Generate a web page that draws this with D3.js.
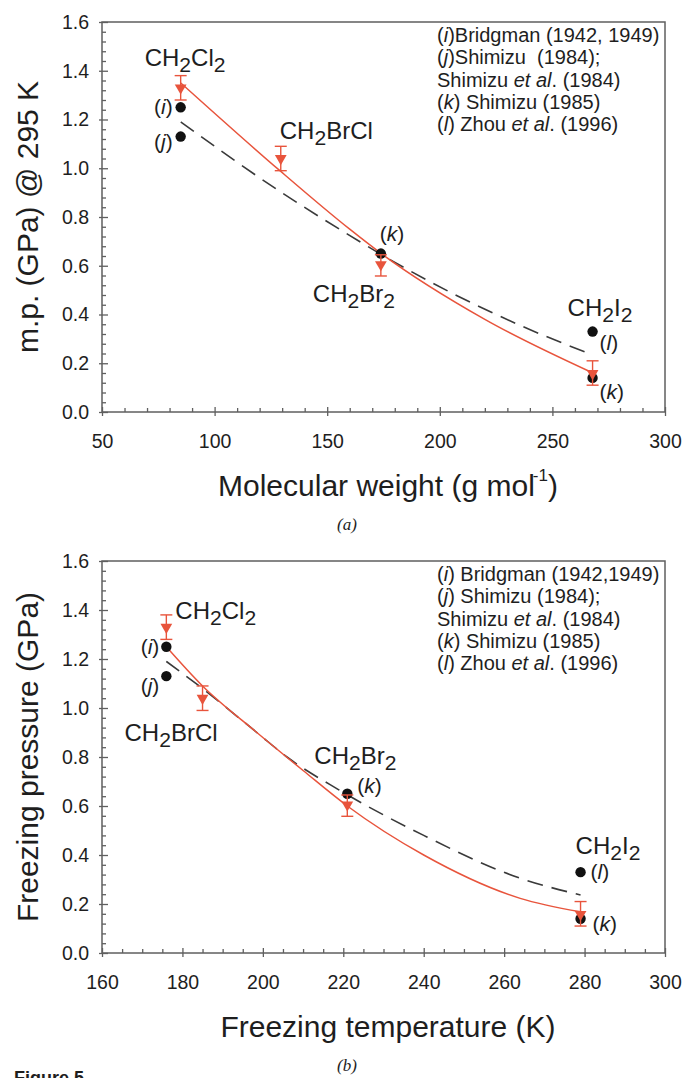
<!DOCTYPE html>
<html>
<head>
<meta charset="utf-8">
<script src="https://cdn.jsdelivr.net/npm/d3@7"></script>
<style>
  html, body { margin: 0; padding: 0; background: #ffffff; }
  svg { display: block; }
  text { font-family: "Liberation Sans", Arial, sans-serif; fill: #1e1e1e; }
</style>
</head>
<body>
<svg id="fig" width="682" height="1078"></svg>
<script>
// ---- data ----
const compounds = ["CH2Cl2", "CH2BrCl", "CH2Br2", "CH2I2"];
const molWeight = [84.93, 129.38, 173.83, 267.84];      // g mol-1
const freezeTemp = [176, 185, 221, 279];                 // K
const pressureMean = [1.33, 1.04, 0.605, 0.158];         // GPa, this work
const pressureLow = [1.28, 0.99, 0.558, 0.11];
const pressureHigh = [1.38, 1.09, 0.645, 0.21];

// literature points: compound index, source letter, value (GPa)
const litCompound = [0, 0, 2, 3, 3];
const litSource = ["i", "j", "k", "l", "k"];
const litValue = [1.25, 1.13, 0.65, 0.33, 0.14];

// fitted curves (red: this work, dashed: literature)
const fitA_x = [85, 129, 160, 174, 220, 268];
const fitA_y = [1.35, 0.99, 0.75, 0.65, 0.38, 0.16];
const dashA_x = [85, 129, 159, 177, 237, 268];
const dashA_y = [1.19, 0.905, 0.73, 0.63, 0.35, 0.234];
const fitB_x = [176, 185, 198.5, 210, 221, 240, 264, 279];
const fitB_y = [1.25, 1.09, 0.90, 0.745, 0.60, 0.40, 0.223, 0.168];
const dashB_x = [176, 184.4, 198.5, 206, 219, 240, 264, 279];
const dashB_y = [1.19, 1.087, 0.90, 0.80, 0.665, 0.48, 0.305, 0.237];

// tick values
const yMajor = [0, 0.2, 0.4, 0.6, 0.8, 1.0, 1.2, 1.4, 1.6];
const xMajorA = [50, 100, 150, 200, 250, 300];
const xMajorB = [160, 180, 200, 220, 240, 260, 280, 300];

// ---- style ----
const RED = "#e8543c";
const DOT = "#111111";
const FRAME = "#5f5f5f";

const svg = d3.select("#fig");

function formula(g, name, x, y, size) {
  // chemical formula with lowered digits
  const t = g.append("text").attr("x", x).attr("y", y).style("font-size", size + "px");
  const parts = name.match(/[A-Za-z]+|\d+/g);
  let low = false;
  parts.forEach(p => {
    const isNum = /\d/.test(p);
    const ts = t.append("tspan").text(p);
    if (isNum && !low) { ts.attr("dy", size * 0.26).style("font-size", (size * 0.88) + "px"); low = true; }
    else if (isNum && low) { ts.style("font-size", (size * 0.88) + "px"); }
    else if (!isNum && low) { ts.attr("dy", -size * 0.26); low = false; }
  });
  return t;
}

function refLabel(g, letter, x, y, anchor) {
  const t = g.append("text").attr("x", x).attr("y", y)
    .attr("text-anchor", anchor).style("font-size", "21px");
  t.append("tspan").text("(");
  t.append("tspan").text(letter).style("font-style", "italic");
  t.append("tspan").text(")");
}

function legend(g, lines, x, y0, step) {
  lines.forEach((segs, i) => {
    const t = g.append("text").attr("x", x).attr("y", y0 + i * step)
      .style("font-size", "20px").attr("xml:space", "preserve");
    segs.forEach(s => {
      const ts = t.append("tspan").text(s[0]);
      if (s[1]) ts.style("font-style", "italic");
    });
  });
}

function panel(cfg) {
  const g = svg.append("g");
  const x = d3.scaleLinear().domain(cfg.xDomain).range([102, 665]);
  const y = d3.scaleLinear().domain([0, 1.6]).range([cfg.bottom, cfg.top]);

  // frame
  g.append("rect").attr("x", 102).attr("y", cfg.top)
    .attr("width", 563).attr("height", cfg.bottom - cfg.top)
    .attr("fill", "none").attr("stroke", FRAME).attr("stroke-width", 1.5);

  const yMinor = d3.range(0, 1.6001, 0.04).filter(v => !yMajor.some(m => Math.abs(m - v) < 1e-6));
  const xMinor = d3.range(cfg.xDomain[0], cfg.xDomain[1] + 0.001, cfg.xMinorStep)
    .filter(v => !cfg.xMajor.includes(v));

  function styleAxis(sel) {
    sel.selectAll(".domain").remove();
    sel.selectAll("line").attr("stroke", FRAME).attr("stroke-width", 1.3);
    sel.selectAll("text").style("font-size", "19.5px").style("font-family", "'Liberation Sans', Arial, sans-serif")
      .attr("fill", "#1e1e1e");
  }
  // y axis
  g.append("g").attr("transform", "translate(102,0)")
    .call(d3.axisLeft(y).tickValues(yMajor).tickSize(3).tickPadding(10).tickFormat(d3.format(".1f")))
    .call(styleAxis);
  g.append("g").attr("transform", "translate(102,0)")
    .call(d3.axisLeft(y).tickValues(yMajor).tickSize(-6).tickFormat("")).call(styleAxis);
  g.append("g").attr("transform", "translate(102,0)")
    .call(d3.axisLeft(y).tickValues(yMinor).tickSize(-4).tickFormat("")).call(styleAxis);
  // x axis
  g.append("g").attr("transform", `translate(0,${cfg.bottom})`)
    .call(d3.axisBottom(x).tickValues(cfg.xMajor).tickSize(4).tickPadding(18).tickFormat(d3.format("d")))
    .call(styleAxis);
  g.append("g").attr("transform", `translate(0,${cfg.bottom})`)
    .call(d3.axisBottom(x).tickValues(cfg.xMajor).tickSize(-5).tickFormat("")).call(styleAxis);
  g.append("g").attr("transform", `translate(0,${cfg.bottom})`)
    .call(d3.axisBottom(x).tickValues(xMinor).tickSize(-4).tickFormat("")).call(styleAxis);

  // fitted curves
  const line = d3.line().x(d => x(d[0])).y(d => y(d[1])).curve(d3.curveMonotoneX);
  g.append("path").datum(d3.zip(cfg.dashX, cfg.dashY)).attr("d", line)
    .attr("fill", "none").attr("stroke", "#3a3a3a").attr("stroke-width", 1.6)
    .attr("stroke-dasharray", "16,9");
  g.append("path").datum(d3.zip(cfg.fitX, cfg.fitY)).attr("d", line)
    .attr("fill", "none").attr("stroke", RED).attr("stroke-width", 1.5);

  // literature points
  litValue.forEach((v, i) => {
    g.append("circle").attr("cx", x(cfg.xs[litCompound[i]])).attr("cy", y(v))
      .attr("r", 5.2).attr("fill", DOT);
  });

  // this work: error bars and down triangles
  const tri = d3.symbol().type(d3.symbolTriangle).size(60);
  compounds.forEach((c, i) => {
    const cx = x(cfg.xs[i]);
    g.append("line").attr("x1", cx).attr("x2", cx)
      .attr("y1", y(pressureLow[i])).attr("y2", y(pressureHigh[i]))
      .attr("stroke", RED).attr("stroke-width", 1.4);
    [pressureLow[i], pressureHigh[i]].forEach(v => {
      g.append("line").attr("x1", cx - 6).attr("x2", cx + 6)
        .attr("y1", y(v)).attr("y2", y(v)).attr("stroke", RED).attr("stroke-width", 1.4);
    });
    g.append("path").attr("d", tri)
      .attr("transform", `translate(${cx},${y(pressureMean[i])}) rotate(180)`)
      .attr("fill", RED);
  });

  // compound names
  compounds.forEach((c, i) => {
    const p = cfg.namePos[i];
    formula(g, c, x(cfg.xs[i]) + p[0], p[1], 24);
  });

  // source letters beside literature points
  litValue.forEach((v, i) => {
    const p = cfg.refPos[i];
    refLabel(g, litSource[i], x(cfg.xs[litCompound[i]]) + p[0], y(v) + p[1], p[2]);
  });

  legend(g, cfg.legend, 437, cfg.top + 20, 22.3);

  // axis titles
  const yt = g.append("text").attr("text-anchor", "middle")
    .attr("transform", `translate(38,${(cfg.top + cfg.bottom) / 2}) rotate(-90)`)
    .style("font-size", "30px");
  yt.text(cfg.yTitle);
  const xt = g.append("text").attr("x", 388).attr("y", cfg.bottom + 84)
    .attr("text-anchor", "middle").style("font-size", "30px");
  cfg.xTitle(xt);

  g.append("text").attr("x", 347).attr("y", cfg.bottom + 118).attr("text-anchor", "middle")
    .style("font-family", "'Liberation Serif', 'Times New Roman', serif")
    .style("font-size", "17px").style("font-style", "italic").text(cfg.caption);
}

panel({
  xDomain: [50, 300], xMajor: xMajorA, xMinorStep: 10,
  top: 22, bottom: 412,
  xs: molWeight,
  fitX: fitA_x, fitY: fitA_y, dashX: dashA_x, dashY: dashA_y,
  namePos: [[-36, 66], [-1, 139], [-68, 302], [-25, 316]],
  refPos: [[-8, 7, "end"], [-8, 12, "end"], [-1, -13, "start"], [7, 18, "start"], [7, 21, "start"]],
  legend: [
    [["(", ""], ["i", 1], [")Bridgman (1942, 1949)", ""]],
    [["(", ""], ["j", 1], [")Shimizu  (1984);", ""]],
    [["Shimizu ", ""], ["et al", 1], [". (1984)", ""]],
    [["(", ""], ["k", 1], [") Shimizu (1985)", ""]],
    [["(", ""], ["l", 1], [") Zhou ", ""], ["et al", 1], [". (1996)", ""]]
  ],
  yTitle: "m.p. (GPa) @ 295 K",
  xTitle: t => {
    t.append("tspan").text("Molecular weight (g mol");
    t.append("tspan").text("-1").attr("dy", -15).style("font-size", "17px").attr("dx", -2);
    t.append("tspan").text(")").attr("dy", 15);
  },
  caption: "(a)"
});

panel({
  xDomain: [160, 300], xMajor: xMajorB, xMinorStep: 5,
  top: 561, bottom: 953,
  xs: freezeTemp,
  fitX: fitB_x, fitY: fitB_y, dashX: dashB_x, dashY: dashB_y,
  namePos: [[9, 619], [-78, 741], [-33, 764], [-5, 854]],
  refPos: [[-7, 7, "end"], [-7, 17, "end"], [10, -1, "start"], [10, 7, "start"], [12, 12, "start"]],
  legend: [
    [["(", ""], ["i", 1], [") Bridgman (1942,1949)", ""]],
    [["(", ""], ["j", 1], [") Shimizu (1984);", ""]],
    [["Shimizu ", ""], ["et al", 1], [". (1984)", ""]],
    [["(", ""], ["k", 1], [") Shimizu (1985)", ""]],
    [["(", ""], ["l", 1], [") Zhou ", ""], ["et al", 1], [". (1996)", ""]]
  ],
  yTitle: "Freezing pressure (GPa)",
  xTitle: t => t.text("Freezing temperature (K)"),
  caption: "(b)"
});

svg.append("text").attr("x", 14).attr("y", 1084)
  .style("font-size", "18px").style("font-weight", "bold").text("Figure 5");
</script>
</body>
</html>
